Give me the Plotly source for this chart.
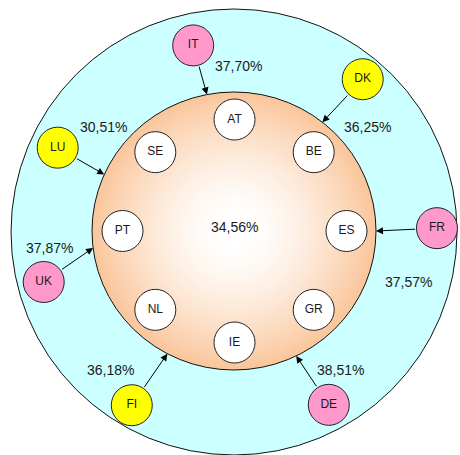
import numpy as np
import plotly.graph_objects as go

# ---- data ----
core_members = ["ES", "BE", "AT", "SE", "PT", "NL", "IE", "GR"]
outer_members = ["IT", "DK", "LU", "FR", "UK", "FI", "DE"]
outer_rates = [37.70, 36.25, 30.51, 37.57, 37.87, 36.18, 38.51]
outer_group = ["pink", "yellow", "yellow", "pink", "pink", "yellow", "pink"]
core_rate = 34.56

# ---- layout of the schematic (pixel space, y grows downward) ----
W, H = 460, 455
CX, CY = 234, 231
RING_OUT = 223            # outer band radius
CORE_RX, CORE_RY = 142, 139   # inner disc radii
CORE_RING = (112, 111.5)  # ring on which the core badges sit
core_angles = [0, 45, 90, 135, 180, 225, 270, 315]

# polar placement of the outer badges: (angle deg, distance)
outer_pos = {
    "IT": (102.4, 190), "DK": (49.7, 199), "LU": (154.7, 195),
    "FR": (0.8, 203), "UK": (195.0, 197), "FI": (239.6, 202), "DE": (298.6, 198),
}
# angle at which each arrow meets the inner disc
arrow_tip_angle = {
    "IT": 101, "DK": 51.5, "LU": 156, "FR": 0, "UK": 187, "FI": 242, "DE": 296,
}
# rate label positions
label_xy = {
    "IT": (238, 66), "DK": (367, 127), "LU": (103, 127), "FR": (408, 282),
    "UK": (49, 248), "FI": (110, 370), "DE": (340, 370),
}
group_color = {"pink": "#FF99CC", "yellow": "#FFFF00"}
BADGE_R = 20.5
TEXT = "#1a1a1a"
FONT = "Liberation Sans, Arial, sans-serif"
CORE_EDGE = np.array([250, 198, 155])   # peach at the rim of the inner disc


def fmt(v):
    return f"{v:.2f}".replace(".", ",") + "%"


def polar(ang, rx, ry=None, cx=CX, cy=CY):
    ry = rx if ry is None else ry
    a = np.deg2rad(ang)
    return cx + rx * np.cos(a), cy - ry * np.sin(a)


def core_shade(r):
    """Colour of the inner disc at normalised radius r (0 centre, 1 rim)."""
    s = np.clip((r - 0.08) / 0.92, 0, 1) ** 1.5
    c = 255 + (CORE_EDGE - 255) * s
    return "rgb({:.0f},{:.0f},{:.0f})".format(*c)


shapes = [dict(type="circle", xref="x", yref="y", layer="below",
               x0=CX - RING_OUT, x1=CX + RING_OUT,
               y0=CY - RING_OUT + 1, y1=CY + RING_OUT + 1,
               fillcolor="#CCFFFF", line=dict(color="#111111", width=1))]

# inner disc: stacked concentric ellipses give a soft radial gradient
for r in np.linspace(1.0, 0.04, 80):
    shapes.append(dict(type="circle", xref="x", yref="y", layer="below",
                       x0=CX - CORE_RX * r, x1=CX + CORE_RX * r,
                       y0=CY - CORE_RY * r, y1=CY + CORE_RY * r,
                       fillcolor=core_shade(r), line=dict(width=0)))
shapes.append(dict(type="circle", xref="x", yref="y", layer="below",
                   x0=CX - CORE_RX, x1=CX + CORE_RX,
                   y0=CY - CORE_RY, y1=CY + CORE_RY,
                   fillcolor="rgba(0,0,0,0)", line=dict(color="#111111", width=1)))

fig = go.Figure()

# core member badges
cx_list, cy_list = [], []
for a in core_angles:
    x, y = polar(a, *CORE_RING, cx=CX + 0.5, cy=CY)
    cx_list.append(x)
    cy_list.append(y)
fig.add_trace(go.Scatter(
    x=cx_list, y=cy_list, mode="markers+text", text=core_members,
    textfont=dict(family=FONT, size=12, color=TEXT),
    marker=dict(size=2 * BADGE_R, color="white", line=dict(color="#222222", width=1)),
    hoverinfo="skip", showlegend=False,
))

# outer member badges
ox, oy = [], []
for code in outer_members:
    ang, dist = outer_pos[code]
    x, y = polar(ang, dist)
    ox.append(x)
    oy.append(y)
fig.add_trace(go.Scatter(
    x=ox, y=oy, mode="markers+text", text=outer_members,
    textfont=dict(family=FONT, size=12, color=TEXT),
    marker=dict(size=2 * BADGE_R, color=[group_color[g] for g in outer_group],
                line=dict(color="#222222", width=1)),
    hoverinfo="skip", showlegend=False,
))

annotations = []
# arrows from each outer badge to the inner disc
for code, x0, y0 in zip(outer_members, ox, oy):
    tx, ty = polar(arrow_tip_angle[code], CORE_RX, CORE_RY)
    d = np.hypot(tx - x0, ty - y0)
    sx = x0 + (tx - x0) / d * BADGE_R
    sy = y0 + (ty - y0) / d * BADGE_R
    annotations.append(dict(
        x=tx, y=ty, ax=sx, ay=sy, xref="x", yref="y", axref="x", ayref="y",
        text="", showarrow=True, arrowhead=2, arrowsize=1.4, arrowwidth=1,
        arrowcolor="#000000", standoff=0,
    ))

# rate labels
for code, v in zip(outer_members, outer_rates):
    lx, ly = label_xy[code]
    annotations.append(dict(x=lx, y=ly, xref="x", yref="y", text=fmt(v),
                            showarrow=False,
                            font=dict(family=FONT, size=14, color=TEXT)))
annotations.append(dict(x=CX, y=227, xref="x", yref="y", text=fmt(core_rate),
                        showarrow=False, font=dict(family=FONT, size=14, color=TEXT)))

fig.update_layout(
    width=W, height=H,
    margin=dict(l=0, r=0, t=0, b=0),
    paper_bgcolor="white", plot_bgcolor="white",
    xaxis=dict(range=[0, W], visible=False, fixedrange=True),
    yaxis=dict(range=[H, 0], visible=False, fixedrange=True),
    shapes=shapes,
    annotations=annotations,
)

fig.write_html("out.html")
